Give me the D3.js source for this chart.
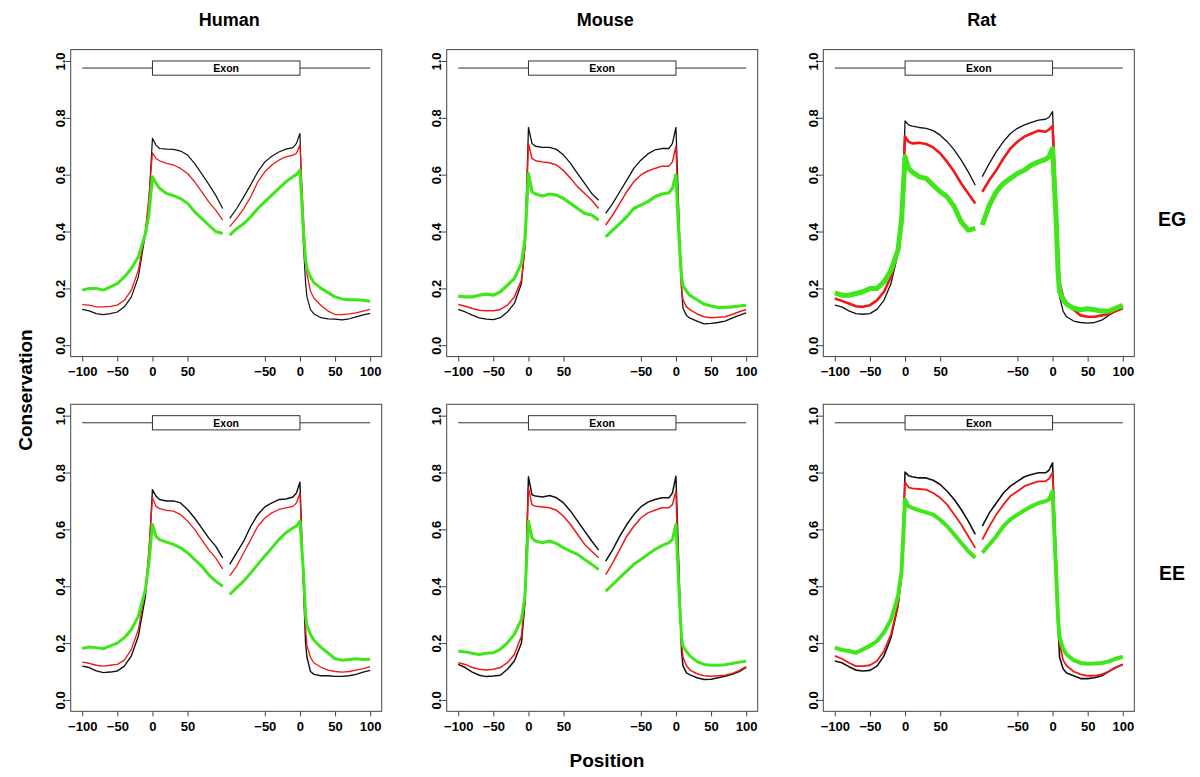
<!DOCTYPE html>
<html><head><meta charset="utf-8">
<script src="https://cdn.jsdelivr.net/npm/d3@7"></script>
<style>
body{margin:0;background:#fff}
svg{display:block}
text{font-family:"Liberation Sans",Arial,Helvetica,sans-serif;font-weight:bold;fill:#000}
</style>
</head><body>
<svg id="chart" width="1200" height="777"></svg>
<script>
// ---------------- data ----------------
const species = ["Human", "Mouse", "Rat"];
const exonTypes = ["EG", "EE"];
const seriesNames = ["black", "red", "green"];
// positions around exon start (left block) and exon end (right block)
const startPos = [-100,-90,-80,-70,-60,-50,-40,-30,-20,-10,-5,0,5,10,20,30,40,50,60,70,80,90,100];
const endPos   = [-100,-90,-80,-70,-60,-50,-40,-30,-20,-10,-5,0,5,8,10,15,20,30,40,50,60,70,80,90,100];
const xTickValues = [0, 50, 100, 150, 260, 310, 360, 410];
const xTickLabels = ["\u2212100", "\u221250", "0", "50", "\u221250", "0", "50", "100"];
const yTickValues = [0, 0.2, 0.4, 0.6, 0.8, 1.0];

// Human EG
const humanEG_black_start = [0.126,0.121,0.111,0.108,0.111,0.117,0.135,0.170,0.241,0.393,0.51,0.728,0.704,0.692,0.690,0.689,0.683,0.669,0.640,0.604,0.567,0.528,0.481];
const humanEG_black_end   = [0.446,0.481,0.522,0.565,0.61,0.645,0.665,0.68,0.69,0.695,0.71,0.745,0.35,0.22,0.17,0.125,0.11,0.097,0.093,0.092,0.089,0.093,0.10,0.107,0.112];
const humanEG_red_start   = [0.143,0.141,0.135,0.135,0.137,0.141,0.158,0.194,0.264,0.405,0.52,0.677,0.657,0.649,0.64,0.634,0.622,0.604,0.575,0.54,0.505,0.475,0.44];
const humanEG_red_end     = [0.417,0.446,0.481,0.522,0.575,0.61,0.634,0.651,0.663,0.669,0.675,0.704,0.45,0.30,0.25,0.19,0.165,0.14,0.12,0.108,0.108,0.11,0.114,0.12,0.126];
const humanEG_green_start = [0.194,0.20,0.20,0.194,0.205,0.217,0.24,0.27,0.311,0.393,0.46,0.593,0.57,0.552,0.534,0.526,0.516,0.499,0.47,0.446,0.423,0.40,0.393];
const humanEG_green_end   = [0.387,0.41,0.428,0.452,0.481,0.505,0.528,0.552,0.575,0.593,0.60,0.616,0.40,0.30,0.27,0.24,0.22,0.20,0.185,0.17,0.163,0.16,0.16,0.158,0.155];
// Human EE
const humanEE_black_start = [0.119,0.114,0.102,0.096,0.098,0.102,0.119,0.155,0.225,0.365,0.506,0.74,0.717,0.705,0.70,0.70,0.693,0.67,0.64,0.605,0.57,0.541,0.50];
const humanEE_black_end   = [0.477,0.518,0.559,0.611,0.652,0.679,0.693,0.705,0.707,0.714,0.728,0.766,0.40,0.20,0.15,0.10,0.09,0.085,0.085,0.083,0.083,0.085,0.09,0.098,0.104];
const humanEE_red_start   = [0.133,0.129,0.122,0.119,0.122,0.125,0.14,0.178,0.248,0.389,0.53,0.711,0.681,0.673,0.667,0.664,0.652,0.629,0.60,0.564,0.529,0.50,0.461];
const humanEE_red_end     = [0.436,0.471,0.518,0.564,0.611,0.64,0.658,0.67,0.676,0.681,0.693,0.728,0.42,0.25,0.19,0.15,0.13,0.115,0.105,0.10,0.098,0.10,0.105,0.11,0.117];
const humanEE_green_start = [0.181,0.186,0.184,0.18,0.19,0.20,0.219,0.248,0.295,0.389,0.482,0.617,0.576,0.564,0.555,0.547,0.535,0.518,0.494,0.471,0.441,0.418,0.40];
const humanEE_green_end   = [0.371,0.395,0.418,0.447,0.477,0.506,0.535,0.564,0.588,0.605,0.611,0.629,0.45,0.30,0.26,0.23,0.21,0.185,0.165,0.145,0.14,0.142,0.145,0.142,0.143];
// Mouse EG
const mouseEG_black_start = [0.126,0.117,0.106,0.096,0.092,0.09,0.097,0.117,0.147,0.217,0.346,0.766,0.71,0.70,0.696,0.696,0.689,0.669,0.64,0.604,0.569,0.534,0.51];
const mouseEG_black_end   = [0.464,0.499,0.54,0.581,0.622,0.651,0.673,0.687,0.692,0.692,0.71,0.766,0.40,0.20,0.13,0.105,0.095,0.085,0.075,0.077,0.08,0.085,0.095,0.105,0.114];
const mouseEG_red_start   = [0.143,0.137,0.129,0.123,0.121,0.121,0.126,0.141,0.17,0.229,0.346,0.71,0.657,0.649,0.645,0.642,0.634,0.614,0.587,0.557,0.534,0.51,0.481];
const mouseEG_red_end     = [0.423,0.458,0.499,0.54,0.575,0.599,0.613,0.622,0.63,0.63,0.645,0.70,0.35,0.20,0.16,0.135,0.125,0.11,0.10,0.097,0.098,0.10,0.108,0.118,0.126];
const mouseEG_green_start = [0.173,0.17,0.17,0.176,0.18,0.176,0.188,0.211,0.235,0.288,0.37,0.604,0.54,0.532,0.525,0.532,0.528,0.516,0.499,0.481,0.464,0.458,0.44];
const mouseEG_green_end   = [0.381,0.405,0.428,0.452,0.481,0.493,0.505,0.522,0.532,0.536,0.552,0.599,0.35,0.24,0.21,0.19,0.175,0.16,0.145,0.138,0.133,0.133,0.135,0.138,0.14];
// Mouse EE
const mouseEE_black_start = [0.125,0.114,0.098,0.087,0.082,0.084,0.087,0.108,0.137,0.20,0.342,0.785,0.722,0.717,0.714,0.719,0.711,0.693,0.664,0.629,0.594,0.559,0.527];
const mouseEE_black_end   = [0.488,0.529,0.576,0.617,0.652,0.679,0.696,0.705,0.711,0.711,0.728,0.787,0.40,0.17,0.12,0.095,0.088,0.078,0.072,0.073,0.078,0.083,0.09,0.10,0.115];
const mouseEE_red_start   = [0.131,0.125,0.114,0.108,0.105,0.108,0.114,0.131,0.16,0.225,0.354,0.746,0.687,0.681,0.679,0.676,0.667,0.646,0.617,0.582,0.547,0.523,0.50];
const mouseEE_red_end     = [0.441,0.482,0.529,0.576,0.611,0.64,0.658,0.667,0.676,0.676,0.687,0.734,0.35,0.20,0.15,0.12,0.105,0.092,0.085,0.083,0.085,0.087,0.093,0.103,0.117];
const mouseEE_green_start = [0.172,0.169,0.164,0.16,0.164,0.166,0.178,0.201,0.231,0.283,0.365,0.629,0.57,0.559,0.553,0.559,0.55,0.535,0.523,0.512,0.494,0.477,0.459];
const mouseEE_green_end   = [0.383,0.406,0.43,0.453,0.477,0.494,0.512,0.529,0.543,0.553,0.564,0.617,0.35,0.22,0.19,0.17,0.155,0.135,0.125,0.122,0.122,0.124,0.128,0.133,0.136];
// Rat EG
const ratEG_black_start = [0.141,0.135,0.121,0.111,0.109,0.111,0.126,0.158,0.217,0.323,0.428,0.789,0.775,0.771,0.766,0.763,0.755,0.739,0.716,0.687,0.651,0.61,0.563];
const ratEG_black_end   = [0.593,0.64,0.681,0.716,0.745,0.763,0.775,0.784,0.792,0.795,0.802,0.822,0.50,0.25,0.17,0.12,0.10,0.085,0.08,0.078,0.08,0.088,0.105,0.12,0.13];
const ratEG_red_start   = [0.164,0.156,0.147,0.137,0.135,0.141,0.158,0.188,0.241,0.335,0.44,0.734,0.716,0.71,0.712,0.708,0.696,0.675,0.645,0.61,0.569,0.534,0.499];
const ratEG_red_end     = [0.54,0.581,0.616,0.657,0.692,0.716,0.734,0.745,0.755,0.751,0.759,0.771,0.50,0.30,0.22,0.17,0.15,0.125,0.105,0.10,0.10,0.105,0.11,0.12,0.13];
const ratEG_green_start = [0.184,0.176,0.176,0.182,0.188,0.20,0.20,0.223,0.264,0.335,0.44,0.663,0.622,0.61,0.593,0.587,0.563,0.54,0.522,0.487,0.434,0.405,0.411];
const ratEG_green_end   = [0.423,0.493,0.54,0.569,0.587,0.604,0.616,0.634,0.645,0.654,0.663,0.692,0.45,0.25,0.19,0.16,0.145,0.13,0.125,0.128,0.125,0.12,0.12,0.13,0.14];
// Rat EE
const ratEE_black_start = [0.137,0.131,0.117,0.105,0.102,0.104,0.119,0.155,0.219,0.33,0.436,0.802,0.789,0.785,0.781,0.781,0.773,0.758,0.734,0.705,0.67,0.629,0.582];
const ratEE_black_end   = [0.611,0.658,0.693,0.728,0.752,0.769,0.785,0.793,0.799,0.799,0.808,0.834,0.50,0.25,0.15,0.11,0.095,0.085,0.075,0.075,0.078,0.085,0.10,0.115,0.125];
const ratEE_red_start   = [0.155,0.145,0.131,0.119,0.119,0.122,0.137,0.172,0.231,0.336,0.441,0.766,0.748,0.744,0.742,0.74,0.728,0.711,0.687,0.652,0.617,0.576,0.535];
const ratEE_red_end     = [0.564,0.611,0.652,0.687,0.717,0.734,0.752,0.761,0.769,0.769,0.778,0.799,0.50,0.30,0.20,0.14,0.12,0.10,0.09,0.085,0.085,0.09,0.10,0.113,0.125];
const ratEE_green_start = [0.184,0.176,0.172,0.166,0.178,0.19,0.207,0.237,0.283,0.365,0.453,0.705,0.681,0.676,0.667,0.66,0.652,0.634,0.611,0.582,0.553,0.523,0.50];
const ratEE_green_end   = [0.518,0.547,0.576,0.611,0.635,0.652,0.667,0.681,0.693,0.699,0.705,0.734,0.45,0.28,0.22,0.18,0.16,0.14,0.13,0.127,0.128,0.13,0.135,0.145,0.152];

// table built from the arrays above
const table = {
  Human: {
    EG: {black:[humanEG_black_start,humanEG_black_end], red:[humanEG_red_start,humanEG_red_end], green:[humanEG_green_start,humanEG_green_end]},
    EE: {black:[humanEE_black_start,humanEE_black_end], red:[humanEE_red_start,humanEE_red_end], green:[humanEE_green_start,humanEE_green_end]}
  },
  Mouse: {
    EG: {black:[mouseEG_black_start,mouseEG_black_end], red:[mouseEG_red_start,mouseEG_red_end], green:[mouseEG_green_start,mouseEG_green_end]},
    EE: {black:[mouseEE_black_start,mouseEE_black_end], red:[mouseEE_red_start,mouseEE_red_end], green:[mouseEE_green_start,mouseEE_green_end]}
  },
  Rat: {
    EG: {black:[ratEG_black_start,ratEG_black_end], red:[ratEG_red_start,ratEG_red_end], green:[ratEG_green_start,ratEG_green_end]},
    EE: {black:[ratEE_black_start,ratEE_black_end], red:[ratEE_red_start,ratEE_red_end], green:[ratEE_green_start,ratEE_green_end]}
  }
};

// ---------------- layout / style ----------------
const colLeft = [70.7, 446.7, 823.3];
const rowTop = [49.6, 404.3];
const panelW = 311, panelH = 307;
const colors = {black: "#111111", red: "#f01818", green: "#3ee61a"};
const widths = {
  Human: {EG: {black:1.2, red:1.3, green:3}, EE: {black:1.4, red:1.3, green:3}},
  Mouse: {EG: {black:1.3, red:1.5, green:3.2}, EE: {black:1.5, red:1.5, green:3}},
  Rat:   {EG: {black:1.3, red:2.6, green:5}, EE: {black:1.6, red:1.8, green:4}}
};

const svg = d3.select("#chart");
svg.append("rect").attr("width", 1200).attr("height", 777).attr("fill", "#fff");

species.forEach((sp, ci) => {
  exonTypes.forEach((ty, ri) => {
    const L = colLeft[ci], T = rowTop[ri];
    const x = d3.scaleLinear().domain([-16.4, 426.4]).range([L, L + panelW]);
    const y = d3.scaleLinear().domain([-0.04, 1.04]).range([T + panelH, T]);
    const g = svg.append("g");

    // exon diagram
    g.append("line").attr("x1", x(0)).attr("x2", x(410)).attr("y1", y(0.975)).attr("y2", y(0.975))
      .attr("stroke", "#333").attr("stroke-width", 1);
    g.append("rect").attr("x", x(100)).attr("width", x(310) - x(100))
      .attr("y", y(1.0)).attr("height", y(0.95) - y(1.0))
      .attr("fill", "#fff").attr("stroke", "#333").attr("stroke-width", 1);
    g.append("text").attr("x", x(205)).attr("y", y(0.975)).attr("dy", "0.36em")
      .attr("text-anchor", "middle").attr("font-size", 10.5).text("Exon");

    // series
    const line = d3.line().x(d => x(d[0])).y(d => y(d[1]));
    seriesNames.forEach(s => {
      const [a, b] = table[sp][ty][s];
      const segs = [
        startPos.map((p, i) => [p + 100, a[i]]),
        endPos.map((p, i) => [p + 310, b[i]])
      ];
      segs.forEach(seg => {
        g.append("path").attr("d", line(seg)).attr("fill", "none")
          .attr("stroke", colors[s]).attr("stroke-width", widths[sp][ty][s])
          .attr("stroke-linejoin", "round");
      });
    });

    // box
    g.append("rect").attr("x", L).attr("y", T).attr("width", panelW).attr("height", panelH)
      .attr("fill", "none").attr("stroke", "#444").attr("stroke-width", 1);

    // x axis
    const xa = g.append("g").attr("transform", `translate(0,${T + panelH})`)
      .call(d3.axisBottom(x).tickValues(xTickValues).tickFormat((d, i) => xTickLabels[i])
        .tickSize(5).tickSizeOuter(0).tickPadding(5.5));
    xa.select(".domain").remove();
    xa.selectAll("line").attr("stroke", "#444");
    xa.selectAll("text").attr("font-size", 13).attr("font-family", null).attr("fill", "#000");

    // y axis
    const ya = g.append("g").attr("transform", `translate(${L},0)`)
      .call(d3.axisLeft(y).tickValues(yTickValues).tickFormat(d3.format(".1f")).tickSize(5).tickSizeOuter(0));
    ya.select(".domain").remove();
    ya.selectAll("line").attr("stroke", "#444");
    ya.selectAll("text").attr("font-size", 13).attr("font-family", null).attr("fill", "#000")
      .attr("x", 0).attr("y", -5.5).attr("dy", 0).attr("text-anchor", "middle")
      .attr("transform", "rotate(-90)");
  });
});

// titles
species.forEach((sp, ci) => {
  svg.append("text").attr("x", colLeft[ci] + panelW / 2 + 3).attr("y", 25.5)
    .attr("text-anchor", "middle").attr("font-size", 18).text(sp);
});
exonTypes.forEach((ty, ri) => {
  svg.append("text").attr("x", 1172).attr("y", rowTop[ri] + 176)
    .attr("text-anchor", "middle").attr("font-size", 19.5).text(ty);
});
svg.append("text").attr("transform", "translate(32,390) rotate(-90)")
  .attr("text-anchor", "middle").attr("font-size", 19).text("Conservation");
svg.append("text").attr("x", 607).attr("y", 767)
  .attr("text-anchor", "middle").attr("font-size", 19).text("Position");
</script>
</body></html>
